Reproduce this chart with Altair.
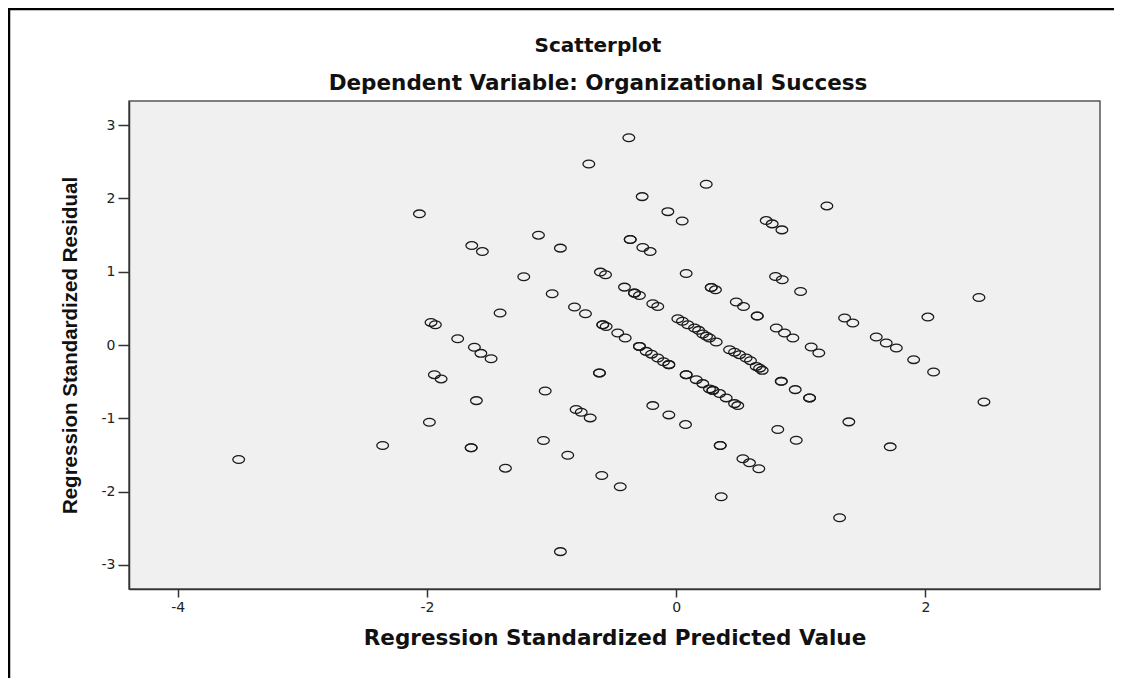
import altair as alt
import pandas as pd

# Regression standardized predicted values (x) and standardized residuals (y)
pred = [
    -2.06, -1.64, -1.555, -1.967, -1.932, -1.753, -1.619, -1.567, -1.485,
    -0.38, -0.701, 0.241, -0.273, -0.067, 0.048, 0.722, 0.770, 0.848,
    -1.105, -0.929, -0.369, -0.369, -0.268, -0.209, -1.223, -1.413, -0.995,
    0.080, -0.608, -0.567, -0.415, -0.335, -0.335, -0.295, -0.188, -0.148,
    0.281, 0.281, 0.315, 0.482, 0.540, 0.650, 0.650, 0.797, 0.851,
    -0.816, -0.728, -0.589, -0.589, -0.562, -0.469, -0.409,
    0.013, 0.05, 0.093, 0.147, 0.18, 0.213, 0.243, 0.267, 0.321,
    0.803, 0.869, 0.936, 1.083, 1.144, 1.209, 0.998, 2.429, 2.019,
    1.351, 1.417, 1.605, 1.685, 1.766, 1.905, 2.065, 2.469,
    -3.51, -2.355, -1.98, -1.94, -1.886, -1.603, -1.645, -1.645, -1.37,
    -1.051, -1.065, -0.87, -0.616, -0.616, -0.803, -0.762, -0.69,
    -0.597, -0.449, -0.929,
    -0.295, -0.295, -0.241, -0.198, -0.148, -0.102, -0.059, -0.059,
    0.08, 0.08, 0.161, 0.213, 0.267, 0.294, 0.294, 0.348, 0.401, 0.468, 0.494,
    -0.188, -0.059, 0.075,
    0.428, 0.468, 0.508, 0.561, 0.596, 0.642, 0.669, 0.69,
    0.843, 0.843, 0.815, 0.353, 0.353, 0.535, 0.588, 0.663, 0.361,
    0.955, 1.07, 1.07, 1.385, 0.963, 1.717, 1.311,
]
resid = [
    1.79, 1.357, 1.275, 0.308, 0.277, 0.086, -0.03, -0.114, -0.187,
    2.828, 2.47, 2.193, 2.025, 1.82, 1.693, 1.698, 1.653, 1.571,
    1.499, 1.322, 1.439, 1.439, 1.33, 1.275, 0.931, 0.436, 0.699,
    0.975, 0.995, 0.958, 0.79, 0.708, 0.708, 0.676, 0.563, 0.526,
    0.785, 0.785, 0.753, 0.586, 0.526, 0.395, 0.395, 0.935, 0.89,
    0.518, 0.426, 0.277, 0.277, 0.253, 0.163, 0.095,
    0.358, 0.324, 0.277, 0.232, 0.20, 0.15, 0.12, 0.095, 0.041,
    0.232, 0.163, 0.095, -0.027, -0.109, 1.898, 0.73, 0.648, 0.381,
    0.368, 0.30, 0.109, 0.027, -0.041, -0.20, -0.368, -0.777,
    -1.563, -1.372, -1.054, -0.405, -0.463, -0.759, -1.403, -1.403, -1.681,
    -0.627, -1.304, -1.504, -0.381, -0.381, -0.881, -0.918, -0.995,
    -1.781, -1.935, -2.82,
    -0.019, -0.019, -0.087, -0.125, -0.177, -0.228, -0.268, -0.268,
    -0.405, -0.405, -0.473, -0.527, -0.599, -0.619, -0.619, -0.663, -0.722, -0.8, -0.827,
    -0.827, -0.954, -1.086,
    -0.064, -0.098, -0.132, -0.177, -0.214, -0.292, -0.316, -0.346,
    -0.496, -0.496, -1.154, -1.372, -1.372, -1.553, -1.608, -1.689, -2.071,
    -0.609, -0.722, -0.722, -1.049, -1.30, -1.39, -2.357,
]

x_ticks = [-4, -2, 0, 2]
y_ticks = [-3, -2, -1, 0, 1, 2, 3]

chart_title = "Scatterplot"
chart_subtitle = "Dependent Variable: Organizational Success"
x_title = "Regression Standardized Predicted Value"
y_title = "Regression Standardized Residual"

df = pd.DataFrame({"pred": pred, "resid": resid})
one = pd.DataFrame({"k": [0]})

W, H = 971, 488
TITLE_CX = 469
ellipse = "M-1,0A1,0.66,0,1,0,1,0A1,0.66,0,1,0,-1,0Z"

points = alt.Chart(df).mark_point(
    shape=ellipse, size=137, filled=False, stroke="#1a1a1a", strokeWidth=1.3, opacity=1
).encode(
    x=alt.X("pred:Q",
            scale=alt.Scale(domain=[-4.39, 3.40], nice=False, zero=False),
            axis=alt.Axis(values=x_ticks, title=x_title, labelExpr="'' + datum.value",
                          grid=False, tickSize=8, labelPadding=3, labelFont="DejaVu Sans",
                          labelFontSize=14, labelColor="#222", tickColor="#333", tickWidth=1.5,
                          domainColor="#333", domainWidth=1.5,
                          titleFont="DejaVu Sans", titleFontSize=21.5, titleFontWeight="bold",
                          titleColor="#111", titleY=49, titleBaseline="middle")),
    y=alt.Y("resid:Q",
            scale=alt.Scale(domain=[-3.33, 3.33], nice=False, zero=False),
            axis=alt.Axis(values=y_ticks, title=y_title, labelExpr="'' + datum.value",
                          grid=False, tickSize=11, labelPadding=3, labelFont="DejaVu Sans",
                          labelFontSize=14, labelColor="#222", tickColor="#333", tickWidth=1.5,
                          domainColor="#333", domainWidth=1.5,
                          titleFont="Liberation Sans", titleFontSize=20.5, titleFontWeight="bold",
                          titleColor="#111", titleX=-59, titleY=H / 2, titleBaseline="middle")),
)

title1 = alt.Chart(one).mark_text(
    text=chart_title, font="DejaVu Sans", fontSize=20, fontWeight="bold",
    color="#111", align="center", baseline="middle"
).encode(x=alt.value(TITLE_CX), y=alt.value(-55))

title2 = alt.Chart(one).mark_text(
    text=chart_subtitle, font="DejaVu Sans", fontSize=21.5, fontWeight="bold",
    color="#111", align="center", baseline="middle"
).encode(x=alt.value(TITLE_CX), y=alt.value(-17))

frame_top = alt.Chart(one).mark_rule(color="#000", strokeWidth=2.5).encode(
    x=alt.value(-121), x2=alt.value(W + 14), y=alt.value(-92)
)
frame_left = alt.Chart(one).mark_rule(color="#000", strokeWidth=2.5).encode(
    x=alt.value(-120), y=alt.value(-93), y2=alt.value(H + 89)
)

chart = alt.layer(frame_top, frame_left, title1, title2, points).properties(
    width=W, height=H,
    autosize=alt.AutoSizeParams(type="none"),
    padding={"left": 121, "top": 93, "right": 14, "bottom": 89},
).configure(
    background="white"
).configure_view(
    fill="#f0f0f0", stroke="#555", strokeWidth=1.5
)

chart.save("out.html", embed_options={"renderer": "svg", "actions": False})
